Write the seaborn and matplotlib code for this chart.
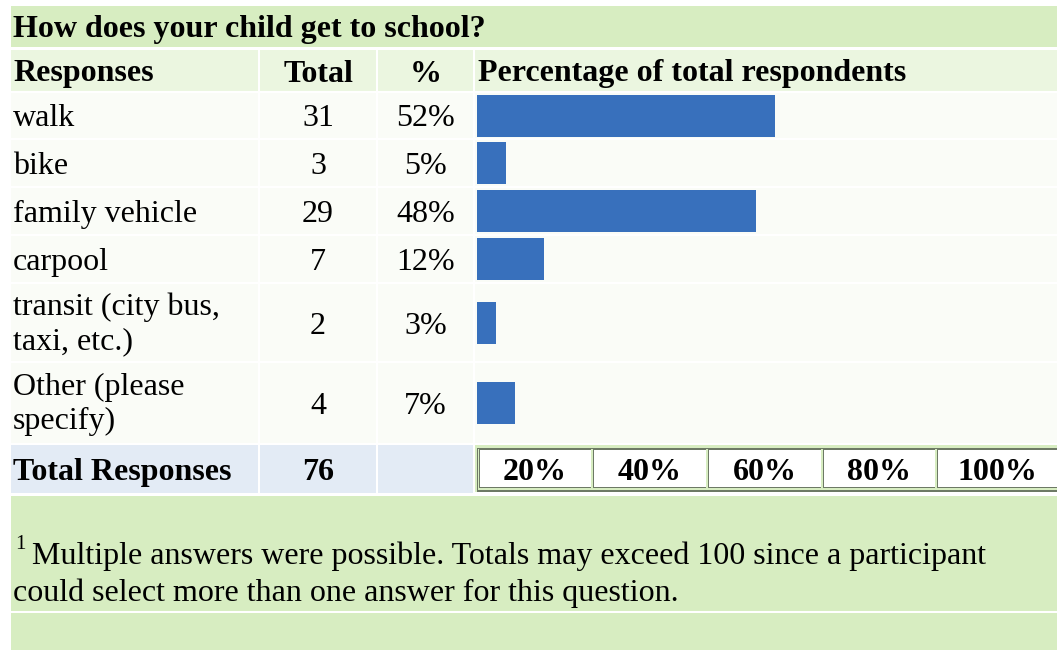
import matplotlib
matplotlib.use("Agg")
import matplotlib.pyplot as plt
from matplotlib.patches import Rectangle
import seaborn as sns
import pandas as pd

# ---------------- data ----------------
title = "How does your child get to school?"
header = ["Responses", "Total", "%", "Percentage of total respondents"]
responses = ["walk", "bike", "family vehicle", "carpool",
             "transit (city bus,\ntaxi, etc.)", "Other (please\nspecify)"]
totals = [31, 3, 29, 7, 2, 4]
pct_labels = ["52%", "5%", "48%", "12%", "3%", "7%"]
respondents = 60
total_label = "Total Responses"
total_responses = 76
scale_labels = ["20%", "40%", "60%", "80%", "100%"]
footnote_mark = "1"
footnote_lines = ["Multiple answers were possible. Totals may exceed 100 since a participant",
                  "could select more than one answer for this question."]

# ---------------- layout (pixels) ----------------
W, H = 1057, 650
cols = [(11, 258), (260, 376), (378, 473), (475, 1057)]
title_band = (6, 47)
header_band = (50, 91)
rows = [(93, 138), (140, 186), (188, 234), (236, 282), (284, 361), (363, 443)]
total_band = (445, 493)
foot_band = (496, 611)
bottom_band = (613, 650)
bar_x0, bar_px_100 = 477, 577
scale_cells = [(479, 591), (593, 706), (708, 821), (823, 935), (937, 1057)]

C_GREEN = "#d7edc1"
C_HEAD = "#ebf6e0"
C_ROW = "#fafcf7"
C_TOTAL = "#e3ebf5"
C_BAR = "#3870bc"
C_DARK = "#6d7965"

FS = 23.0          # ~32 px
FS_SUP = 15

plt.rcParams["font.family"] = ["Liberation Serif", "DejaVu Serif"]

fig = plt.figure(figsize=(W / 100, H / 100), dpi=100)
fig.patch.set_facecolor("white")
bg = fig.add_axes([0, 0, 1, 1])
bg.set_xlim(0, W)
bg.set_ylim(H, 0)
bg.axis("off")


def rect(x0, x1, y0, y1, fc, ec="none", lw=0, z=1):
    bg.add_patch(Rectangle((x0, y0), x1 - x0, y1 - y0, facecolor=fc,
                           edgecolor=ec, linewidth=lw, zorder=z))


def txt(x, y, s, ha="left", bold=False, size=FS):
    bg.text(x, y, s, ha=ha, va="baseline", fontsize=size,
            fontweight="bold" if bold else "normal", color="black", zorder=5)


OFF = 11  # baseline offset below row centre

# title
rect(cols[0][0], W, *title_band, C_GREEN)
txt(13, (title_band[0] + title_band[1]) / 2 + OFF, title, bold=True)

# header
hc = (header_band[0] + header_band[1]) / 2 + OFF
for (x0, x1) in cols:
    rect(x0, x1, *header_band, C_HEAD)
txt(13, hc, header[0], bold=True)
txt((cols[1][0] + cols[1][1]) / 2, hc, header[1], ha="center", bold=True)
txt((cols[2][0] + cols[2][1]) / 2, hc, header[2], ha="center", bold=True)
txt(478, hc, header[3], bold=True)

# data rows
centers = []
for (y0, y1), resp, tot, pl in zip(rows, responses, totals, pct_labels):
    c = (y0 + y1) / 2
    centers.append(c)
    for (x0, x1) in cols:
        rect(x0, x1, y0, y1, C_ROW)
    lines = resp.split("\n")
    if len(lines) == 1:
        txt(13, c + OFF, lines[0])
    else:
        txt(13, c + OFF - 18.5, lines[0])
        txt(13, c + OFF + 15.5, lines[1])
    txt((cols[1][0] + cols[1][1]) / 2, c + OFF, str(tot), ha="center")
    txt((cols[2][0] + cols[2][1]) / 2, c + OFF, pl, ha="center")

# total row
tc = (total_band[0] + total_band[1]) / 2 + OFF
for (x0, x1) in cols[:3]:
    rect(x0, x1, *total_band, C_TOTAL)
txt(13, tc, total_label, bold=True)
txt((cols[1][0] + cols[1][1]) / 2, tc, str(total_responses), ha="center", bold=True)

# scale table in chart column of total row
rect(cols[3][0], cols[3][1], total_band[0], total_band[1] - 1, C_GREEN, z=1)
rect(477, W, 447.5, 448.7, C_DARK, z=2)
rect(476.5, 477.7, 447.5, 492.3, C_DARK, z=2)
rect(477, W, 489.8, 492.3, C_DARK, z=2)
for (x0, x1), lab in zip(scale_cells, scale_labels):
    rect(x0, x1, 449, 488, "white", z=2)
    rect(x0, x0 + 1.2, 449, 488, C_DARK, z=3)
    rect(x0, x1, 449, 450.2, C_DARK, z=3)
    rect(x0, x1, 486.8, 488, C_DARK, z=3)
    txt((x0 + x1) / 2, 480, lab, ha="center", bold=True)

# footnote
rect(cols[0][0], W, *foot_band, C_GREEN)
rect(cols[0][0], W, *bottom_band, C_GREEN)
txt(15, 549, footnote_mark, size=FS_SUP)
txt(32, 564, footnote_lines[0])
txt(13, 601, footnote_lines[1])

# ---------------- bars (seaborn) ----------------
df = pd.DataFrame({
    "response": [r.replace("\n", " ") for r in responses],
    "pct": [t / respondents * 100 for t in totals],
    "ypos": centers,
})
ax = fig.add_axes([bar_x0 / W, 0, bar_px_100 / W, 1])
min_gap = min(b - a for a, b in zip(centers[:-1], centers[1:]))
sns.barplot(data=df, x="pct", y="ypos", orient="h", native_scale=True,
            width=42 / min_gap, color=C_BAR, saturation=1, errorbar=None,
            linewidth=0, ax=ax)
ax.set_xlim(0, 100)
ax.set_ylim(H, 0)
ax.axis("off")
ax.patch.set_alpha(0)

fig.savefig("out.png", dpi=100)
